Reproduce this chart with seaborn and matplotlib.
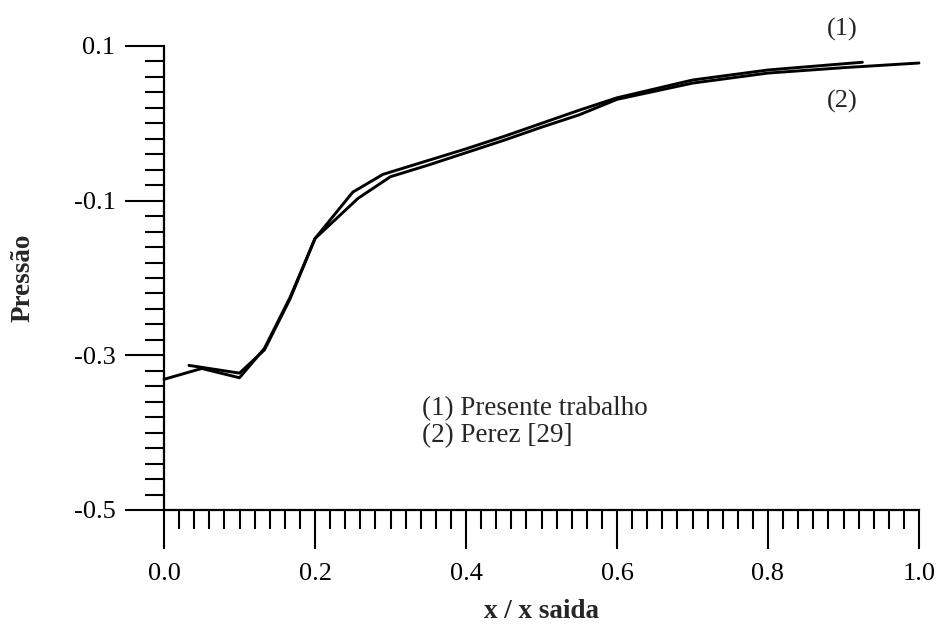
import matplotlib
matplotlib.use("Agg")
import matplotlib.pyplot as plt
from matplotlib.ticker import MultipleLocator, FixedLocator
import seaborn as sns
import pandas as pd

# Data
x_presente = [0.0, 0.05, 0.10, 0.133, 0.167, 0.20, 0.25, 0.29, 0.35, 0.40, 0.45, 0.50, 0.55, 0.60, 0.70, 0.80, 0.925]
y_presente = [-0.331, -0.317, -0.329, -0.291, -0.225, -0.149, -0.089, -0.066, -0.048, -0.033, -0.017, 0.000, 0.017, 0.033, 0.056, 0.069, 0.079]

x_perez = [0.033, 0.10, 0.133, 0.167, 0.20, 0.257, 0.30, 0.35, 0.40, 0.45, 0.50, 0.55, 0.60, 0.70, 0.80, 0.90, 1.0]
y_perez = [-0.313, -0.323, -0.293, -0.227, -0.149, -0.097, -0.069, -0.054, -0.038, -0.022, -0.005, 0.011, 0.031, 0.052, 0.065, 0.072, 0.078]

x_ticks = [0.0, 0.2, 0.4, 0.6, 0.8, 1.0]
x_ticklabels = ["0.0", "0.2", "0.4", "0.6", "0.8", "1.0"]
y_ticks = [-0.5, -0.3, -0.1, 0.1]
y_ticklabels = ["-0.5", "-0.3", "-0.1", "0.1"]

sns.set_theme(style="ticks")
plt.rcParams['font.family'] = ['Liberation Serif', 'DejaVu Serif']

df1 = pd.DataFrame({"x": x_presente, "y": y_presente})
df2 = pd.DataFrame({"x": x_perez, "y": y_perez})

fig = plt.figure(figsize=(9.4, 6.25), dpi=100)
ax = fig.add_axes([164/940, 1 - 510/625, (919 - 164)/940, (510 - 46)/625])

sns.lineplot(data=df1, x="x", y="y", ax=ax, color="black", linewidth=2.1, sort=False, clip_on=False)
sns.lineplot(data=df2, x="x", y="y", ax=ax, color="black", linewidth=2.1, sort=False, clip_on=False)

ax.set_xlim(0.0, 1.0)
ax.set_ylim(-0.5, 0.1)

ax.xaxis.set_major_locator(FixedLocator(x_ticks))
ax.yaxis.set_major_locator(FixedLocator(y_ticks))
ax.set_xticklabels(x_ticklabels)
ax.set_yticklabels(y_ticklabels)
ax.xaxis.set_minor_locator(MultipleLocator(0.02))
ax.yaxis.set_minor_locator(MultipleLocator(0.02))

ax.tick_params(which="major", direction="out", length=28, width=1.5, color="black",
               labelsize=19, labelcolor="black")
ax.tick_params(axis="x", which="major", pad=10)
ax.tick_params(axis="y", which="major", pad=7)
ax.tick_params(which="minor", direction="out", length=14, width=1.5, color="black")

for side in ["top", "right"]:
    ax.spines[side].set_visible(False)
for side in ["left", "bottom"]:
    ax.spines[side].set_linewidth(1.6)
    ax.spines[side].set_color("black")

ax.set_xlabel("x / x saida", fontsize=19.5, fontweight="bold", labelpad=10)
ax.set_ylabel("Pressão", fontsize=19.5, fontweight="bold", labelpad=27)

ax.text(0.899, 0.121, "(1)", fontsize=19, ha="center", va="center", clip_on=False)
ax.text(0.899, 0.028, "(2)", fontsize=19, ha="center", va="center", clip_on=False)
ax.text(0.342, -0.369, "(1) Presente trabalho", fontsize=19.5, ha="left", va="center")
ax.text(0.342, -0.404, "(2) Perez [29]", fontsize=19.5, ha="left", va="center")

fig.savefig("out.png", dpi=100)
